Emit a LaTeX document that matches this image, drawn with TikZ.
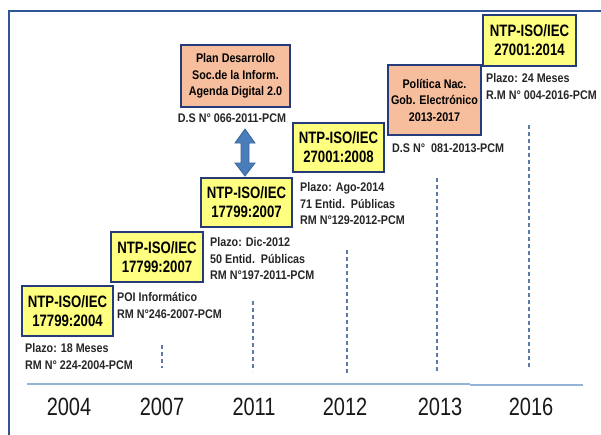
\documentclass[tikz,border=0pt]{standalone}
\usepackage{fontspec}
\setmainfont{Liberation Sans}
\newfontfamily\nA[FakeStretch=0.80]{Liberation Sans}
\newfontfamily\nB[FakeStretch=0.86]{Liberation Sans}
\definecolor{framec}{HTML}{2F5597}
\definecolor{boxline}{HTML}{263C7A}
\definecolor{yel}{HTML}{FFFF80}
\definecolor{sal}{HTML}{F7BE9E}
\definecolor{tline}{HTML}{95B3D7}
\definecolor{dashc}{HTML}{5B7BA6}
\definecolor{arrfill}{HTML}{4A7EBB}
\definecolor{arrline}{HTML}{3A6698}
\definecolor{txt}{HTML}{262626}
\tikzset{
  stdbox/.style={draw=boxline, line width=1.8pt, fill=yel, align=center, inner sep=0pt,
    font=\nA\bfseries\fontsize{16.5}{19}\selectfont},
  salbox/.style={draw=boxline, line width=1.8pt, fill=sal, align=center, inner sep=0pt,
    font=\nB\bfseries\fontsize{12.5}{16.5}\selectfont},
  note/.style={anchor=base west, align=left, inner sep=0pt, text=txt,
    font=\nB\bfseries\fontsize{12.5}{16.7}\selectfont},
  yearlbl/.style={inner sep=0pt, text=black!90, font=\nA\fontsize{25}{28}\selectfont},
  vdash/.style={draw=dashc, line width=1.1pt, dash pattern=on 4pt off 3pt}
}
\begin{document}
\begin{tikzpicture}[x=1pt, y=-1pt]
\useasboundingbox (0,0) rectangle (601,434);
% frame
\draw[framec, line width=2.5pt] (605,11) -- (9,11) -- (9,440);
% timeline
\draw[tline, line width=2.2pt] (27,384) -- (470,384);
\draw[tline, line width=2.2pt] (470,385) -- (583,385);
% dashed markers
\draw[vdash] (162,345) -- (162,368);
\draw[vdash] (253,301) -- (253,371);
\draw[vdash] (347,250) -- (347,373);
\draw[vdash] (437,178) -- (437,372);
\draw[vdash] (529,125) -- (529,369);
% boxes
\node[stdbox, minimum width=91pt, minimum height=50pt] (b2004) at (67.5,311) {NTP-ISO/IEC\\17799:2004};
\node[stdbox, minimum width=92pt, minimum height=50pt] (b2007) at (157,257) {NTP-ISO/IEC\\17799:2007};
\node[stdbox, minimum width=91pt, minimum height=49pt] (b2011) at (246.5,202.5) {NTP-ISO/IEC\\17799:2007};
\node[stdbox, minimum width=91pt, minimum height=49pt] (b2012) at (338.5,147.5) {NTP-ISO/IEC\\27001:2008};
\node[stdbox, minimum width=93pt, minimum height=51pt] (b2016) at (529.5,40.5) {NTP-ISO/IEC\\27001:2014};
\node[salbox, minimum width=109pt, minimum height=62pt] (plan) at (235.5,76) {Plan Desarrollo\\Soc.de la Inform.\\Agenda Digital 2.0};
\node[salbox, minimum width=93pt, minimum height=70pt] (pol) at (434.5,100) {Política Nac.\\Gob. Electrónico\\2013-2017};
% notes (base anchor = baseline of last line)
\node[note] (n2004) at (25,369.2) {Plazo: 18 Meses\\RM N° 224-2004-PCM};
\node[note] (n2007) at (117,318.2) {POI Informático\\RM N°246-2007-PCM};
\node[note] (n2011) at (210,279.9) {Plazo: Dic-2012\\50 Entid.\ \ Públicas\\RM N°197-2011-PCM};
\node[note] (n2012) at (300,224.9) {Plazo: Ago-2014\\71 Entid.\ \ Públicas\\RM N°129-2012-PCM};
\node[note] (n2013) at (392,152.5) {D.S N°\ \ 081-2013-PCM};
\node[note] (n2016) at (486,99.2) {Plazo: 24 Meses\\R.M N° 004-2016-PCM};
\node[note, anchor=base] (ds066) at (232,122.5) {D.S N° 066-2011-PCM};
% double arrow
\filldraw[fill=arrfill, draw=arrline, line width=0.8pt]
  (245,129) -- (255,143) -- (249,143) -- (249,163) -- (255,163) -- (245,176)
  -- (235,163) -- (241,163) -- (241,143) -- (235,143) -- cycle;
% year labels
\foreach \x/\y [count=\i] in {69/2004,162/2007,254/2011,345/2012,440/2013,531/2016}{
  \node[yearlbl] (y\i) at (\x,407) {\y};
}
\end{tikzpicture}
\end{document}
